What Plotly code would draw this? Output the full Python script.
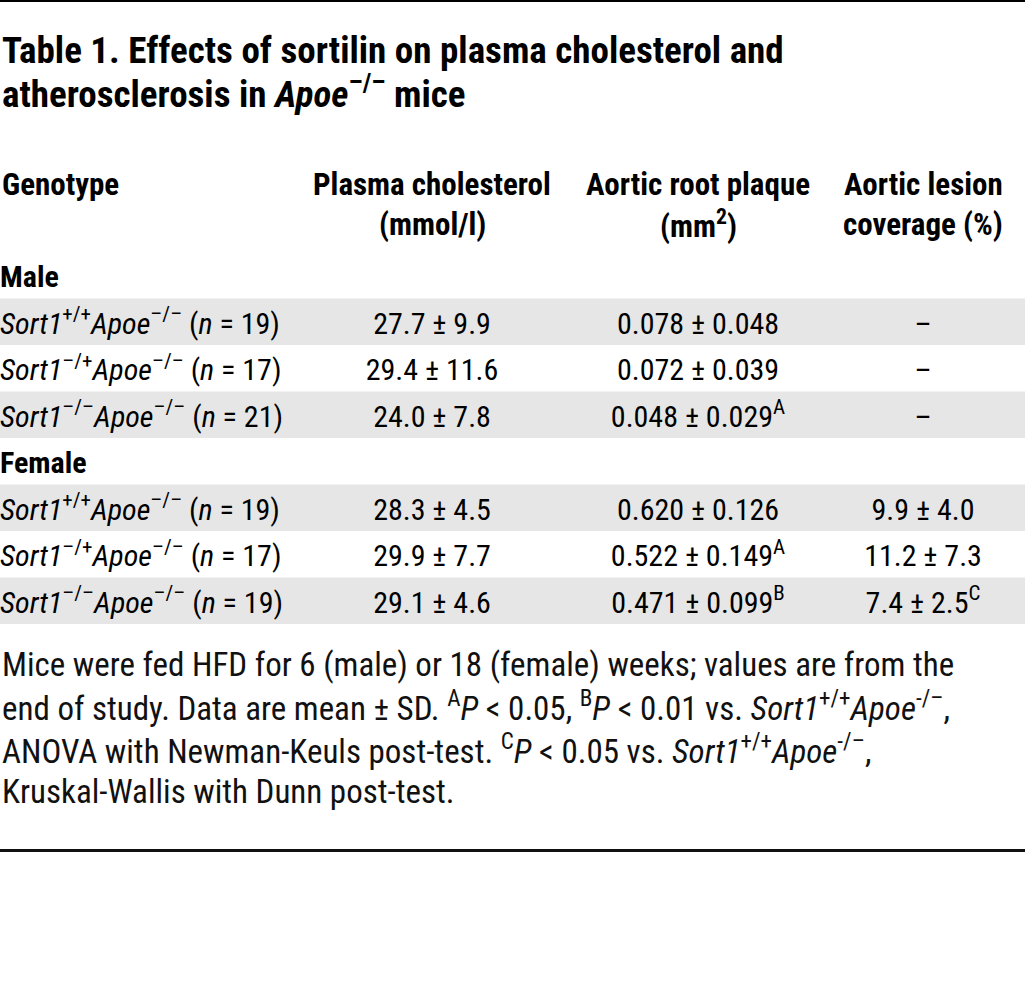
import plotly.graph_objects as go

FONT = "Roboto Condensed, Roboto, sans-serif"

# ---------------- data ----------------
title_lines = [
    "Table 1. Effects of sortilin on plasma cholesterol and",
    "atherosclerosis in <i>Apoe</i><sup>–/–</sup> mice",
]

header_line1 = ["Genotype", "Plasma cholesterol", "Aortic root plaque", "Aortic lesion"]
header_line2 = ["", "(mmol/l)", "(mm<sup>2</sup>)", "coverage (%)"]

genotypes = [
    "<b>Male</b>",
    "<i>Sort1</i><sup>+/+</sup><i>Apoe</i><sup>–/–</sup> (<i>n</i> = 19)",
    "<i>Sort1</i><sup>–/+</sup><i>Apoe</i><sup>–/–</sup> (<i>n</i> = 17)",
    "<i>Sort1</i><sup>–/–</sup><i>Apoe</i><sup>–/–</sup> (<i>n</i> = 21)",
    "<b>Female</b>",
    "<i>Sort1</i><sup>+/+</sup><i>Apoe</i><sup>–/–</sup> (<i>n</i> = 19)",
    "<i>Sort1</i><sup>–/+</sup><i>Apoe</i><sup>–/–</sup> (<i>n</i> = 17)",
    "<i>Sort1</i><sup>–/–</sup><i>Apoe</i><sup>–/–</sup> (<i>n</i> = 19)",
]

plasma_cholesterol = [
    "", "27.7 ± 9.9", "29.4 ± 11.6", "24.0 ± 7.8",
    "", "28.3 ± 4.5", "29.9 ± 7.7", "29.1 ± 4.6",
]

aortic_root_plaque = [
    "", "0.078 ± 0.048", "0.072 ± 0.039", "0.048 ± 0.029<sup>A</sup>",
    "", "0.620 ± 0.126", "0.522 ± 0.149<sup>A</sup>", "0.471 ± 0.099<sup>B</sup>",
]

aortic_lesion_coverage = [
    "", "–", "–", "–",
    "", "9.9 ± 4.0", "11.2 ± 7.3", "7.4 ± 2.5<sup>C</sup>",
]

row_shaded = [False, True, False, True, False, True, False, True]

footnote_lines = [
    "Mice were fed HFD for 6 (male) or 18 (female) weeks; values are from the",
    "end of study. Data are mean ± SD. <sup>A</sup><i>P</i> &lt; 0.05, <sup>B</sup><i>P</i> &lt; 0.01 vs. "
    "<i>Sort1</i><sup>+/+</sup><i>Apoe</i><sup>-/–</sup>,",
    "ANOVA with Newman-Keuls post-test. <sup>C</sup><i>P</i> &lt; 0.05 vs. "
    "<i>Sort1</i><sup>+/+</sup><i>Apoe</i><sup>-/–</sup>,",
    "Kruskal-Wallis with Dunn post-test.",
]

# ---------------- layout constants (pixels) ----------------
W, H = 1025, 999
GRAY = "#e6e6e6"
COL_X = [0, 432, 698, 923]          # left edge of col 1, centres of cols 2-4
ROWS_TOP = 252                      # pixel y of the first body row's top
ROW_H = 46.5                        # body row pitch
TEXT_SHIFT = 4.5                    # body text sits slightly below the row centre
TITLE_Y = [51, 91.5]                # text centres
HEADER_Y = [184.5, 224.5]
FOOT_Y = [664, 706.5, 749, 791.5]


def py(px):
    return 1 - px / H


# y axis in "row index" units, reversed, so row i is centred at ROWS_TOP + ROW_H*(i+0.5)
y_top = (0 - ROWS_TOP) / ROW_H - 0.5
y_bottom = (H - ROWS_TOP) / ROW_H - 0.5
shift = TEXT_SHIFT / ROW_H

columns = [genotypes, plasma_cholesterol, aortic_root_plaque, aortic_lesion_coverage]
rows = list(range(len(genotypes)))

fig = go.Figure()
for ci, col in enumerate(columns):
    fig.add_trace(go.Scatter(
        x=[COL_X[ci]] * len(col),
        y=rows,
        yaxis="y2",
        mode="text",
        text=col,
        textposition="middle right" if ci == 0 else "middle center",
        textfont=dict(family=FONT, size=30, color="black"),
        hoverinfo="skip",
        showlegend=False,
        cliponaxis=False,
    ))

shapes = []
for i, shaded in enumerate(row_shaded):
    if shaded:
        shapes.append(dict(
            type="rect", xref="paper", x0=0, x1=1, yref="y", y0=i - 0.5, y1=i + 0.5,
            fillcolor=GRAY, line=dict(width=0), layer="below",
        ))
shapes += [
    dict(type="rect", xref="paper", yref="paper", x0=0, x1=1, y0=py(2), y1=py(0),
         fillcolor="black", line=dict(width=0)),
    dict(type="rect", xref="paper", yref="paper", x0=0, x1=1, y0=py(852), y1=py(849),
         fillcolor="#111111", line=dict(width=0)),
]

annotations = []
for i, t in enumerate(title_lines):
    annotations.append(dict(
        text=f"<b>{t}</b>", x=0, xref="paper", xanchor="left",
        y=py(TITLE_Y[i]), yref="paper", yanchor="middle",
        showarrow=False, font=dict(family=FONT, size=37, color="black"),
    ))
for li, line in enumerate([header_line1, header_line2]):
    for ci, t in enumerate(line):
        if not t:
            continue
        annotations.append(dict(
            text=f"<b>{t}</b>", x=COL_X[ci], xref="x",
            xanchor="left" if ci == 0 else "center",
            y=py(HEADER_Y[li]), yref="paper", yanchor="middle",
            showarrow=False, font=dict(family=FONT, size=31, color="black"),
        ))
for i, t in enumerate(footnote_lines):
    annotations.append(dict(
        text=t, x=0, xref="paper", xanchor="left",
        y=py(FOOT_Y[i]), yref="paper", yanchor="middle",
        showarrow=False, font=dict(family=FONT, size=33, color="#111111"),
    ))

fig.update_layout(
    width=W, height=H,
    margin=dict(l=0, r=0, t=0, b=0, pad=0),
    paper_bgcolor="white",
    plot_bgcolor="white",
    xaxis=dict(range=[0, W], visible=False, fixedrange=True, domain=[0, 1]),
    yaxis=dict(range=[y_bottom, y_top], visible=False, fixedrange=True, domain=[0, 1]),
    yaxis2=dict(range=[y_bottom - shift, y_top - shift], visible=False, fixedrange=True,
                overlaying="y"),
    annotations=annotations,
    shapes=shapes,
    showlegend=False,
)

fig.write_html(
    "out.html",
    config={"displayModeBar": False, "staticPlot": True},
    post_script="document.body.style.margin='0';document.body.style.overflow='hidden';",
)
